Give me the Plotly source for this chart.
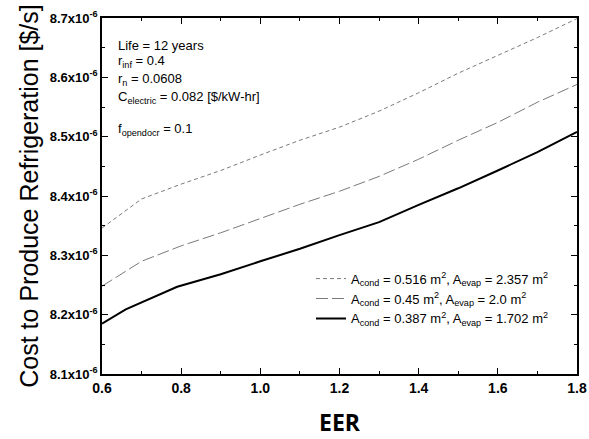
import plotly.graph_objects as go

# EER values and cost to produce refrigeration (units of 1e-6 $/s)
eer_large = [0.6, 0.7, 0.8, 0.9, 1.0, 1.1, 1.2, 1.3, 1.4, 1.5, 1.6, 1.7, 1.8]
cost_large = [8.346, 8.395, 8.420, 8.443, 8.469, 8.494, 8.516, 8.543, 8.574, 8.607, 8.637, 8.667, 8.699]

eer_mid = [0.6, 0.7, 0.8, 0.9, 1.0, 1.1, 1.2, 1.3, 1.4, 1.5, 1.6, 1.7, 1.8]
cost_mid = [8.248, 8.290, 8.316, 8.338, 8.362, 8.386, 8.408, 8.433, 8.462, 8.494, 8.524, 8.558, 8.588]

eer_small = [0.6, 0.66, 0.79, 0.9, 1.0, 1.1, 1.2, 1.3, 1.4, 1.5, 1.6, 1.7, 1.8]
cost_small = [8.185, 8.209, 8.247, 8.268, 8.290, 8.311, 8.334, 8.356, 8.385, 8.413, 8.443, 8.474, 8.508]

y_ticks = [8.1, 8.2, 8.3, 8.4, 8.5, 8.6, 8.7]
x_ticks = [0.6, 0.8, 1.0, 1.2, 1.4, 1.6, 1.8]

SCALE = 1e-6
SANS = "Liberation Sans, Arial"

fig = go.Figure()
fig.add_trace(go.Scatter(
    x=eer_large, y=[v * SCALE for v in cost_large], mode="lines",
    line=dict(color="#7a7a7a", width=1, dash="4px,3px"),
    name="A<sub>cond</sub> = 0.516 m<sup>2</sup>, A<sub>evap</sub> = 2.357 m<sup>2</sup>"))
fig.add_trace(go.Scatter(
    x=eer_mid, y=[v * SCALE for v in cost_mid], mode="lines",
    line=dict(color="#7a7a7a", width=1, dash="12px,4px"),
    name="A<sub>cond</sub> = 0.45 m<sup>2</sup>, A<sub>evap</sub> = 2.0 m<sup>2</sup>"))
fig.add_trace(go.Scatter(
    x=eer_small, y=[v * SCALE for v in cost_small], mode="lines",
    line=dict(color="black", width=2),
    name="A<sub>cond</sub> = 0.387 m<sup>2</sup>, A<sub>evap</sub> = 1.702 m<sup>2</sup>"))

params = [
    "Life = 12 years",
    "r<sub>inf</sub> = 0.4",
    "r<sub>n</sub> = 0.0608",
    "C<sub>electric</sub> = 0.082 [$/kW-hr]",
    "f<sub>opendocr</sub> = 0.1",
]
line_y = [45, 62, 79, 97, 129]
for txt, py in zip(params, line_y):
    fig.add_annotation(
        x=(116 - 102) / 475, y=(374 - py) / 356, xref="paper", yref="paper",
        xanchor="left", yanchor="middle", showarrow=False, text=txt,
        font=dict(family=SANS, size=13, color="black"))

fig.update_layout(
    width=589, height=439,
    margin=dict(l=102, r=12, t=18, b=65),
    paper_bgcolor="white", plot_bgcolor="white",
    font=dict(family=SANS, color="black"),
    showlegend=True,
    legend=dict(
        x=0.44, y=0.31, xanchor="left", yanchor="top",
        bgcolor="rgba(0,0,0,0)", borderwidth=0,
        font=dict(family=SANS, size=13, color="black"),
        tracegroupgap=0, itemwidth=30,
    ),
    xaxis=dict(
        range=[0.6, 1.8], tickvals=x_ticks,
        ticktext=[f"<b>{v:.1f}</b>" for v in x_ticks],
        ticks="inside", ticklen=6, tickwidth=1, tickcolor="black",
        minor=dict(ticks="inside", ticklen=3, dtick=0.1, tickcolor="black"),
        showline=True, linecolor="black", linewidth=1.5, mirror="ticks",
        showgrid=False, zeroline=False, automargin=False,
        tickfont=dict(family=SANS, size=14, color="black"),
        title=dict(text="EER", standoff=20,
                   font=dict(family="Open Sans, DejaVu Sans", size=23, color="black", weight="bold")),
    ),
    yaxis=dict(
        range=[8.1 * SCALE, 8.7 * SCALE],
        tickvals=[v * SCALE for v in y_ticks],
        ticktext=[f"<b>{v:.1f}x10<sup>-6</sup></b>" for v in y_ticks],
        ticks="inside", ticklen=6, tickwidth=1, tickcolor="black",
        minor=dict(ticks="inside", ticklen=3, dtick=0.05 * SCALE, tickcolor="black"),
        showline=True, linecolor="black", linewidth=1.5, mirror="ticks",
        showgrid=False, zeroline=False, automargin=False,
        tickfont=dict(family=SANS, size=13, color="black"),
        title=dict(text="Cost to Produce Refrigeration [$/s]", standoff=4,
                   font=dict(family=SANS, size=25, color="black")),
    ),
)

fig.write_html("out.html")
